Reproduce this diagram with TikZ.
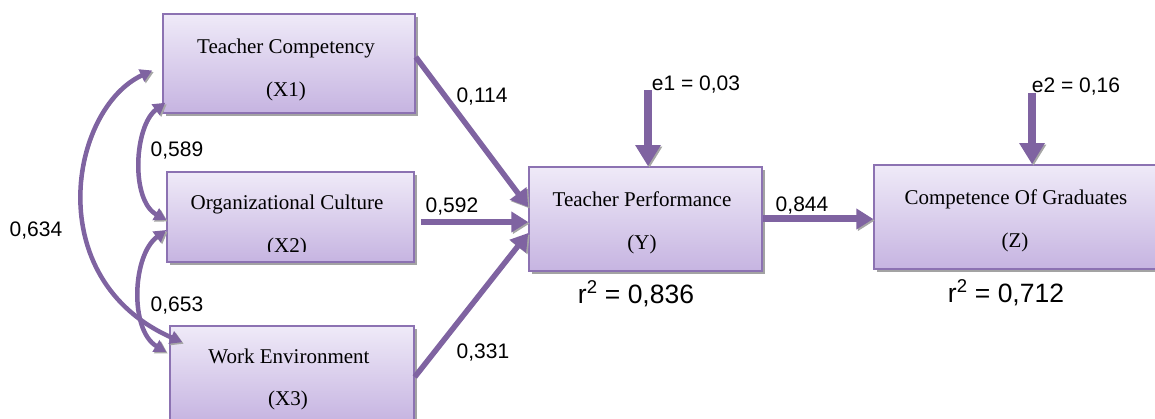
\documentclass[tikz,border=0pt]{standalone}
\usepackage{fontspec}
\setmainfont{Liberation Serif}
\setsansfont{Liberation Sans}
\usetikzlibrary{arrows.meta,shadows,calc}
\definecolor{arr}{HTML}{7F63A1}
\definecolor{bord}{HTML}{8C72B2}
\definecolor{ftop}{HTML}{EFEAF8}
\definecolor{fbot}{HTML}{C6B4E1}
\begin{document}
\begin{tikzpicture}[x=1pt,y=-1pt,
  box/.style={draw=bord, line width=1.5pt, top color=ftop, bottom color=fbot,
    inner sep=0pt, drop shadow={shadow xshift=3pt,shadow yshift=-3pt,fill=black!45,opacity=0.8}},
  bt/.style={font=\fontsize{21}{25}\selectfont, anchor=base, inner sep=0pt},
  lbl/.style={font=\sffamily\fontsize{21}{25}\selectfont, anchor=base, inner sep=0pt},
  rsq/.style={font=\sffamily\fontsize{26.5}{30}\selectfont, anchor=base, inner sep=0pt},
  shad/.style={preaction={draw=black!35, transform canvas={shift={(1.5pt,-1.5pt)}}}},
  pth/.style={shad, draw=arr, line width=6pt, -{Triangle[width=20pt,length=17pt]}},
  err/.style={shad, draw=arr, line width=8pt, -{Triangle[width=24pt,length=21pt]}},
  cov/.style={shad, draw=arr, line width=4.5pt, {Triangle[width=13pt,length=12pt]}-{Triangle[width=13pt,length=12pt]}}
]
\useasboundingbox (0,0) rectangle (1155,419);
\clip (0,0) rectangle (1155,419);
% boxes
\node[box, minimum width=252pt, minimum height=99pt] (X1) at (289,63.5) {};
\node[box, minimum width=247pt, minimum height=90pt] (X2) at (290.5,217) {};
\node[box, minimum width=244pt, minimum height=96pt] (X3) at (292,374) {};
\node[box, minimum width=233pt, minimum height=104pt] (Y) at (645.5,219) {};
\node[box, minimum width=290pt, minimum height=104pt] (Z) at (1019,217) {};
% box texts
\node[bt] (X1a) at (286,54) {Teacher Competency};
\node[bt] (X1b) at (286,97) {(X1)};
\begin{scope}
\clip (160,160) rectangle (420,252);
\node[bt] (X2a) at (287,210) {Organizational Culture};
\node[bt] (X2b) at (287,253) {(X2)};
\end{scope}
\node[bt] (X3a) at (289,363) {Work Environment};
\node[bt] (X3b) at (288,405) {(X3)};
\node[bt] (Ya) at (642,207) {Teacher Performance};
\node[bt] (Yb) at (642,250) {(Y)};
\node[bt] (Za) at (1016,205) {Competence Of Graduates};
\node[bt] (Zb) at (1015,248) {(Z)};
% error sources
\coordinate (e1s) at (648,90);
\coordinate (e2s) at (1032,93);
% path arrows
\draw[pth, line width=5.5pt] ([yshift=6.5pt]X1.east) -- ([yshift=12pt]Y.west);
\draw[pth] ([xshift=6pt,yshift=-5pt]X2.east) -- ([yshift=-3pt]Y.west);
\draw[pth, line width=5.5pt] ([yshift=-3pt]X3.east) -- ([yshift=-14pt]Y.west);
\draw[pth, line width=7pt] (Y.east) -- (Y.east -| Z.west);
\draw[err] (e1s) -- (e1s |- Y.north);
\draw[err] (e2s) -- (e2s |- Z.north);
% covariances
\draw[cov] ([xshift=3pt,yshift=11pt]X1.south west) .. controls +(-31,23) and +(-36,-20) .. ([yshift=-3pt]X2.west);
\draw[cov] ([yshift=-13pt]X2.west) .. controls +(-34,25) and +(-37,-22) .. ([xshift=-3pt,yshift=22pt]X3.west);
\draw[cov] ([xshift=-10pt,yshift=-7pt]X1.west) .. controls +(-82,38) and +(-143,-63) .. ([xshift=13pt,yshift=-17pt]X3.north west);
% labels
\node[lbl] (l114) at (482,103) {0,114};
\node[lbl] (l589) at (177,157) {0,589};
\node[lbl] (l592) at (452,213) {0,592};
\node[lbl] (l634) at (36,237) {0,634};
\node[lbl] (l653) at (177,312) {0,653};
\node[lbl] (l331) at (483,358) {0,331};
\node[lbl] (le1) at (696,91) {e1 = 0,03};
\node[lbl] (le2) at (1076,93) {e2 = 0,16};
\node[lbl] (l844) at (802,212) {0,844};
\node[rsq] (r1) at (636,303) {r\textsuperscript{2} = 0,836};
\node[rsq] (r2) at (1006,302) {r\textsuperscript{2} = 0,712};
\end{tikzpicture}
\end{document}
